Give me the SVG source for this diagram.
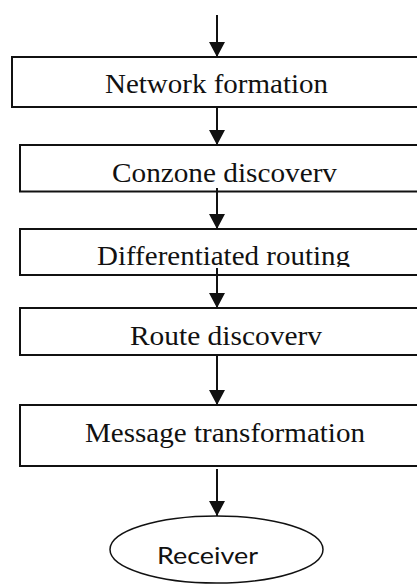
<svg xmlns="http://www.w3.org/2000/svg" width="417" height="584" viewBox="0 0 417 584">
<style>
.box{fill:#fff;stroke:#111;stroke-width:2}
.lbl{font-family:"Liberation Serif","Times New Roman",serif;font-size:28px;fill:#111}
.sans{font-family:Lato,"Open Sans",sans-serif;font-size:24px;fill:#111}
.conn{stroke:#111;stroke-width:2;fill:none}
</style>
<defs>
<marker id="ah" markerUnits="userSpaceOnUse" viewBox="0 0 15 16" markerWidth="15" markerHeight="16" refX="15" refY="8" orient="auto">
<path d="M0,0 L15,8 L0,16 z" fill="#111"/>
</marker>
<clipPath id="c3"><rect x="0" y="229" width="417" height="38"/></clipPath>
</defs>
<rect width="417" height="584" fill="#fff"/>
<g id="n1"><rect class="box" x="12" y="57" width="420" height="50"/><text class="lbl" x="105" y="93" textLength="223" lengthAdjust="spacingAndGlyphs">Network formation</text></g>
<g id="n2"><rect class="box" x="20" y="145" width="420" height="46.5"/><text class="lbl" x="112" y="182" textLength="225" lengthAdjust="spacingAndGlyphs">Conzone discoverv</text></g>
<g id="n3"><rect class="box" x="20" y="229" width="420" height="46"/><text class="lbl" x="97" y="265" textLength="253" lengthAdjust="spacingAndGlyphs" clip-path="url(#c3)">Differentiated routing</text></g>
<g id="n4"><rect class="box" x="20" y="308" width="420" height="47"/><text class="lbl" x="130" y="345" textLength="192" lengthAdjust="spacingAndGlyphs">Route discoverv</text></g>
<g id="n5"><rect class="box" x="20" y="405" width="420" height="61"/><text class="lbl" x="85" y="442" textLength="280" lengthAdjust="spacingAndGlyphs">Message transformation</text></g>
<g id="n6"><ellipse cx="216.5" cy="549.5" rx="106.5" ry="33.5" fill="#fff" stroke="#111" stroke-width="1.5"/><text class="sans" x="157" y="564" textLength="101" lengthAdjust="spacingAndGlyphs">Receiver</text></g>
<g id="connectors">
<line class="conn" x1="217" y1="15" x2="217" y2="57" marker-end="url(#ah)"/>
<line class="conn" x1="217" y1="107" x2="217" y2="145" marker-end="url(#ah)"/>
<line class="conn" x1="217" y1="188" x2="217" y2="229" marker-end="url(#ah)"/>
<line class="conn" x1="217" y1="268" x2="217" y2="308" marker-end="url(#ah)"/>
<line class="conn" x1="217" y1="355" x2="217" y2="405" marker-end="url(#ah)"/>
<line class="conn" x1="217" y1="469" x2="217" y2="516" marker-end="url(#ah)"/>
</g>
</svg>
